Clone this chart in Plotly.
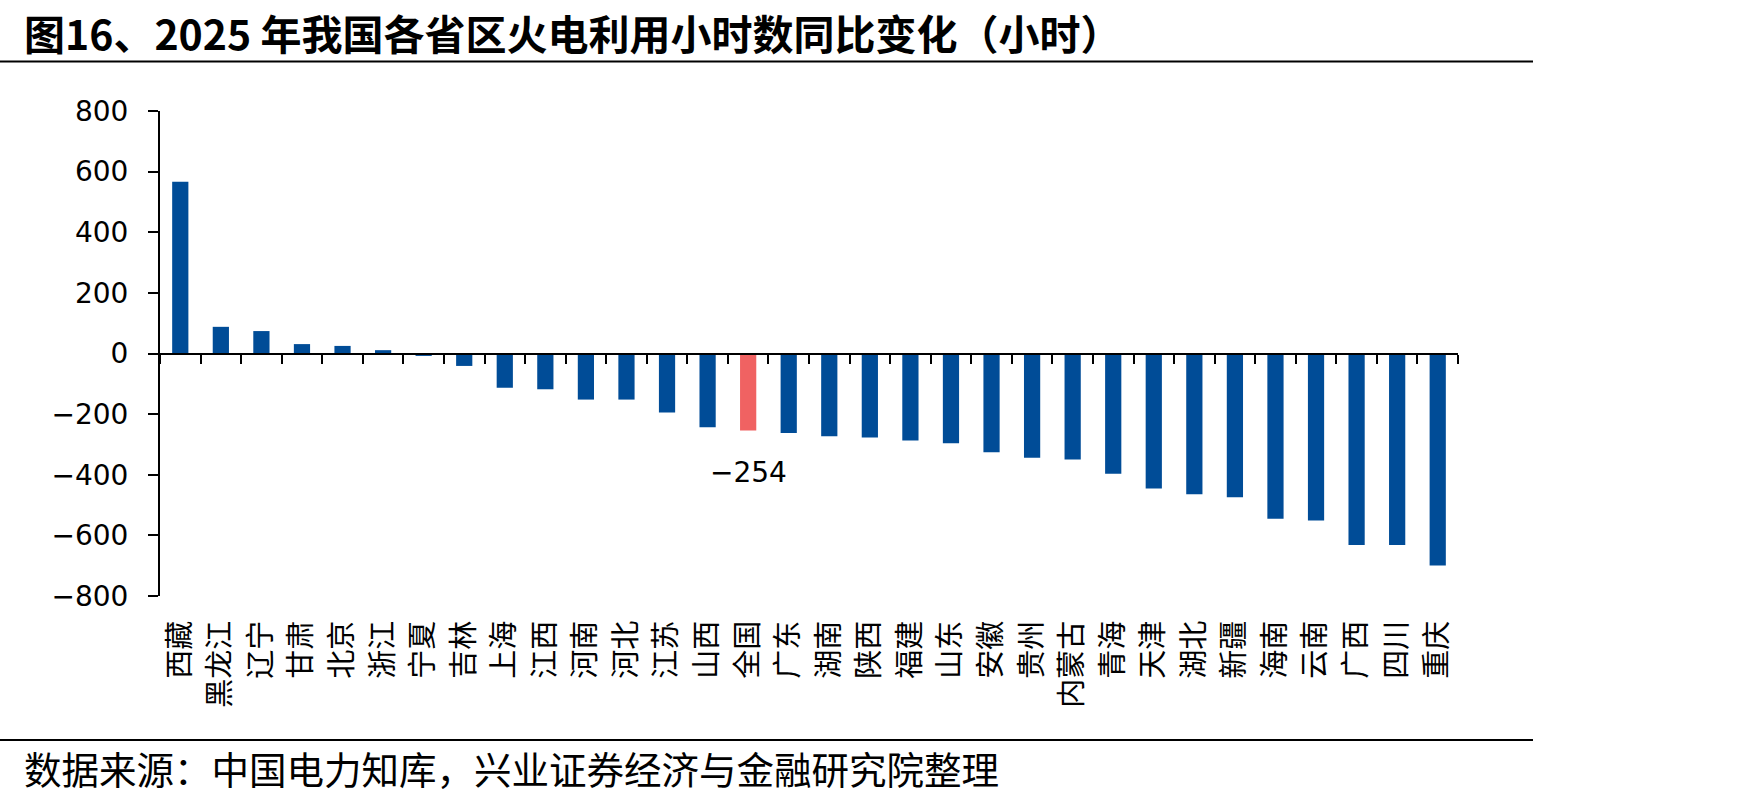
import plotly.graph_objects as go

# ---------------- data ----------------
provinces = ["西藏", "黑龙江", "辽宁", "甘肃", "北京", "浙江", "宁夏", "吉林", "上海", "江西",
             "河南", "河北", "江苏", "山西", "全国", "广东", "湖南", "陕西", "福建", "山东",
             "安徽", "贵州", "内蒙古", "青海", "天津", "湖北", "新疆", "海南", "云南", "广西",
             "四川", "重庆"]
changes = [567, 88, 74, 31, 25, 11, -8, -41, -113, -118,
           -152, -152, -195, -243, -254, -262, -273, -277, -287, -296,
           -326, -344, -350, -397, -445, -464, -474, -545, -551, -632,
           -632, -699]
highlight = "全国"
y_ticks = [-800, -600, -400, -200, 0, 200, 400, 600, 800]

title_text = "图16、2025 年我国各省区火电利用小时数同比变化（小时）"
source_text = "数据来源：中国电力知库，兴业证券经济与金融研究院整理"

# ---------------- style ----------------
BLUE = "#004C97"
RED = "#F06262"
W, H = 1748, 800
L, R, T, B = 160, 290, 111, 204
PW, PH = W - L - R, H - T - B


def px_x(px):
    return (px - L) / PW


def px_y(py):
    return (H - B - py) / PH


colors = [RED if p == highlight else BLUE for p in provinces]
n = len(provinces)

fig = go.Figure()
fig.add_trace(go.Bar(
    x=provinces, y=changes, marker=dict(color=colors, line=dict(width=0)),
    width=0.4, hoverinfo="x+y", showlegend=False,
))
# invisible helper trace that gives the zero-line axis its categories
fig.add_trace(go.Scatter(
    x=provinces, y=changes, xaxis="x2", mode="markers",
    marker=dict(opacity=0), hoverinfo="skip", showlegend=False,
))

ymin, ymax = min(y_ticks), max(y_ticks)
zero_pos = (0 - ymin) / (ymax - ymin)

fig.update_layout(
    width=W, height=H,
    margin=dict(l=L, r=R, t=T, b=B),
    paper_bgcolor="white", plot_bgcolor="white",
    font=dict(family="Noto Sans CJK SC", color="#000000"),
    xaxis=dict(
        type="category", categoryorder="array", categoryarray=provinces,
        range=[-0.5, n - 0.5],
        tickangle=-90,
        tickfont=dict(family="Noto Sans CJK SC", size=29, color="#000000"),
        ticks="", showline=False, showgrid=False, zeroline=False,
        ticklabelstandoff=18,
    ),
    xaxis2=dict(
        type="category", categoryorder="array", categoryarray=provinces,
        range=[-0.5, n - 0.5], overlaying="x", anchor="free", position=zero_pos,
        showticklabels=False, showgrid=False, zeroline=False,
        showline=True, linecolor="#000000", linewidth=2,
        ticks="outside", tickson="boundaries", ticklen=9, tickwidth=2, tickcolor="#000000",
    ),
    yaxis=dict(
        range=[ymin, ymax], tickvals=y_ticks,
        tickfont=dict(family="DejaVu Sans", size=28, color="#000000"),
        showline=True, linecolor="#000000", linewidth=2,
        ticks="outside", ticklen=10, tickwidth=2, tickcolor="#000000",
        showgrid=False, zeroline=False, ticklabelstandoff=14,
    ),
    shapes=[
        dict(type="line", xref="paper", yref="paper",
             x0=px_x(0), x1=px_x(1533), y0=px_y(61.5), y1=px_y(61.5),
             line=dict(color="#000000", width=2)),
        dict(type="line", xref="paper", yref="paper",
             x0=px_x(0), x1=px_x(1533), y0=px_y(740), y1=px_y(740),
             line=dict(color="#000000", width=2)),
    ],
    annotations=[
        dict(text="<b>" + title_text + "</b>", xref="paper", yref="paper",
             x=px_x(22), y=px_y(0), xanchor="left", yanchor="top",
             showarrow=False,
             font=dict(family="Noto Sans CJK SC", size=41, color="#000000")),
        dict(text=source_text, xref="paper", yref="paper",
             x=px_x(22), y=px_y(767), xanchor="left", yanchor="middle",
             showarrow=False,
             font=dict(family="Noto Sans CJK SC", size=37.5, color="#000000")),
    ],
)

# value label for the highlighted (national) bar
for p, v in zip(provinces, changes):
    if p == highlight:
        fig.add_annotation(
            x=p, y=v, xref="x", yref="y", text=f"{v}".replace("-", "\u2212"),
            showarrow=False, yanchor="middle", yshift=-42,
            font=dict(family="DejaVu Sans", size=28, color="#000000"),
        )

fig.write_html("out.html")
